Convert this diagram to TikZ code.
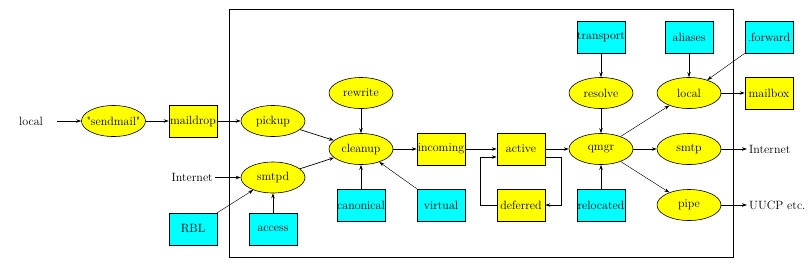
\documentclass[tikz,border=0pt]{standalone}
\usetikzlibrary{shapes.geometric,arrows.meta}
\definecolor{procyellow}{RGB}{255,255,0}
\definecolor{tablecyan}{RGB}{0,255,255}
\begin{document}
\begin{tikzpicture}[x=1pt,y=-1pt,
  every node/.style={font=\fontsize{12}{14}\selectfont},
  proc/.style={ellipse,draw=black,line width=0.6pt,fill=procyellow,minimum width=64pt,minimum height=31pt,inner sep=0pt},
  qbox/.style={rectangle,draw=black,line width=0.6pt,fill=procyellow,minimum width=48pt,minimum height=32pt,inner sep=0pt},
  tbox/.style={rectangle,draw=black,line width=0.6pt,fill=tablecyan,minimum width=48pt,minimum height=32pt,inner sep=0pt},
  lbl/.style={inner sep=2pt},
  conn/.style={draw=black,line width=0.7pt,-{Stealth[length=5pt,width=3.5pt]}},
  thinconn/.style={draw=black,line width=0.45pt,-{Stealth[length=5pt,width=3.5pt]}}
]
\useasboundingbox (0,0) rectangle (810,269);
\node[draw=black,line width=0.7pt,minimum width=504pt,minimum height=248pt,inner sep=0pt] (frame) at (481,133) {};

\node[lbl] (lin) at (31,121) {local};
\node[proc,inner xsep=-5pt] (sendmail) at (113.5,121) {\textquotedbl sendmail\textquotedbl};
\node[qbox] (maildrop) at (193,121) {maildrop};
\node[proc] (pickup) at (273,121) {pickup};
\node[proc] (smtpd) at (273,177.5) {smtpd};
\node[lbl,anchor=east] (iin) at (215,177.5) {Internet};
\node[tbox] (rbl) at (193,229) {RBL};
\node[tbox] (access) at (273,229) {access};
\node[proc] (rewrite) at (361,93) {rewrite};
\node[proc] (cleanup) at (361,149) {cleanup};
\node[tbox] (canonical) at (361,205) {canonical};
\node[tbox] (virtual) at (441,205) {virtual};
\node[qbox] (incoming) at (441,149) {incoming};
\node[qbox] (active) at (521,149) {active};
\node[qbox] (deferred) at (521,205) {deferred};
\node[proc] (qmgr) at (601,149) {qmgr};
\node[proc] (resolve) at (601,93) {resolve};
\node[tbox] (transport) at (601,37) {transport};
\node[tbox] (relocated) at (601,205) {relocated};
\node[tbox] (aliases) at (689,37) {aliases};
\node[proc] (localp) at (689,93) {local};
\node[proc] (smtp) at (689,149) {smtp};
\node[proc] (pipe) at (689,205) {pipe};
\node[tbox] (forward) at (769,37) {.forward};
\node[qbox] (mailbox) at (769,93) {mailbox};
\node[lbl,anchor=west] (iout) at (747,149) {Internet};
\node[lbl,anchor=west] (uucp) at (747,205) {UUCP etc.};

\draw[conn] ([xshift=12pt]lin.east) -- (sendmail);
\draw[conn] (sendmail) -- (maildrop);
\draw[conn] (maildrop) -- (pickup);
\draw[conn] (pickup) -- (cleanup);
\draw[conn] (smtpd) -- (cleanup);
\draw[conn] (iin) -- (smtpd);
\draw[thinconn] (rbl.north east) -- (smtpd);
\draw[conn] (access) -- (smtpd);
\draw[conn] (rewrite) -- (cleanup);
\draw[conn] (canonical) -- (cleanup);
\draw[thinconn] (virtual.north west) -- (cleanup);
\draw[conn] (cleanup) -- (incoming);
\draw[conn] (incoming) -- (active);
\draw[conn] (active) -- (qmgr);
\draw[conn] ([yshift=-8pt]active.east) -- ++(16,0) |- (deferred.east);
\draw[conn] (deferred.west) -- ++(-16,0) |- ([yshift=-8pt]active.west);
\draw[conn] (transport) -- (resolve);
\draw[conn] (resolve) -- (qmgr);
\draw[conn] (relocated) -- (qmgr);
\draw[thinconn] (qmgr) -- (localp);
\draw[conn] (qmgr) -- (smtp);
\draw[thinconn] (qmgr) -- (pipe);
\draw[conn] (aliases) -- (localp);
\draw[thinconn] (forward.south west) -- (localp);
\draw[conn] (localp) -- (mailbox);
\draw[conn] (smtp) -- (iout);
\draw[conn] (pipe) -- (uucp);
\end{tikzpicture}
\end{document}
